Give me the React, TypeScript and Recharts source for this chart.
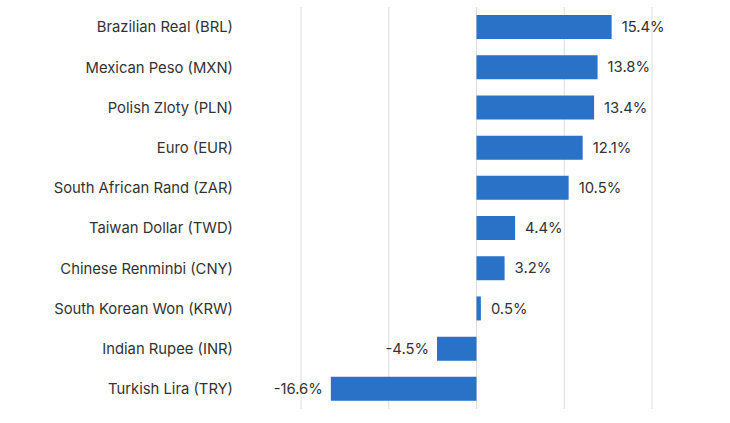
import React from 'react';
import { BarChart, Bar, XAxis, YAxis, CartesianGrid, LabelList } from 'recharts';

const currencies = [
  'Brazilian Real (BRL)',
  'Mexican Peso (MXN)',
  'Polish Zloty (PLN)',
  'Euro (EUR)',
  'South African Rand (ZAR)',
  'Taiwan Dollar (TWD)',
  'Chinese Renminbi (CNY)',
  'South Korean Won (KRW)',
  'Indian Rupee (INR)',
  'Turkish Lira (TRY)',
];

const changes = [15.4, 13.8, 13.4, 12.1, 10.5, 4.4, 3.2, 0.5, -4.5, -16.6];

const xTicks = [-20, -10, 0, 10, 20];

const data = currencies.map((name, i) => ({ name, value: changes[i] }));

const FONT = 'Inter, "Noto Sans", sans-serif';

const ValueLabel = (props: any) => {
  const { x, y, width, height, value } = props;
  const neg = value < 0;
  const endX = x + width;
  const tx = neg ? Math.min(x, endX) - 8 : Math.max(x, endX) + 10;
  return (
    <text
      x={tx}
      y={y + height / 2}
      dy="0.35em"
      textAnchor={neg ? 'end' : 'start'}
      fill="#333333"
      fontSize={14.8}
      fontFamily={FONT}
    >
      {value.toFixed(1)}%
    </text>
  );
};

export default function App() {
  return (
    <div style={{ position: 'absolute', left: 0, top: 0, width: 730, height: 423, background: '#fff' }}>
      <BarChart
        width={730}
        height={423}
        data={data}
        layout="vertical"
        margin={{ top: 7, right: 78, bottom: 14, left: 0 }}
        barCategoryGap="20%"
      >
        <CartesianGrid horizontal={false} stroke="#dcdcdc" strokeWidth={1} />
        <XAxis type="number" domain={[-20, 20]} ticks={xTicks} hide />
        <YAxis
          type="category"
          dataKey="name"
          width={301}
          axisLine={false}
          tickLine={false}
          tickSize={0}
          tickMargin={68}
          tick={{ fill: '#333333', fontSize: 14.8, fontFamily: FONT }}
          interval={0}
        />
        <Bar dataKey="value" fill="#2A71C8" isAnimationActive={false}>
          <LabelList dataKey="value" content={ValueLabel} />
        </Bar>
      </BarChart>
    </div>
  );
}
